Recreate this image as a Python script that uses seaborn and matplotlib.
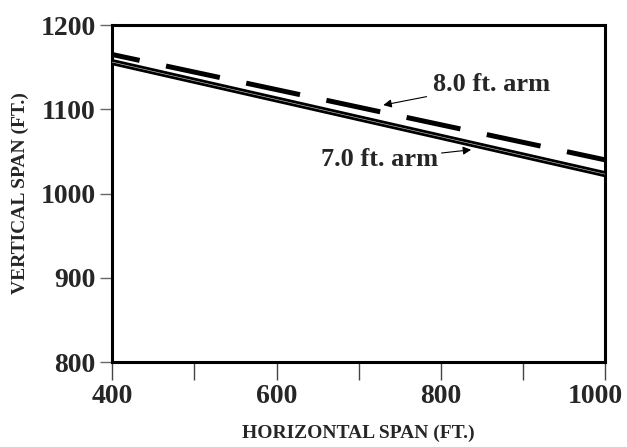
import pandas as pd
import seaborn as sns
import matplotlib.pyplot as plt
import matplotlib.patheffects as pe
import matplotlib.transforms as mtrans

# chart values
span_h = [400, 1000]
arm_7ft = [1156, 1023]
arm_8ft = [1165, 1040]
x_ticks = [400, 600, 800, 1000]
x_minor = [500, 700, 900]
y_ticks = [800, 900, 1000, 1100, 1200]

df = pd.DataFrame({
    'HorizontalSpan': span_h * 2,
    'VerticalSpan': arm_7ft + arm_8ft,
    'Arm': ['7.0 ft. arm'] * 2 + ['8.0 ft. arm'] * 2,
})

sns.set_style("white")
plt.rcParams['font.family'] = ['Liberation Serif', 'DejaVu Serif']
plt.rcParams['font.weight'] = 'bold'

fig = plt.figure(figsize=(6.27, 4.47), dpi=100)
ax = fig.add_axes([0.179, 0.19, 0.786, 0.754])

# solid 7.0 ft line: thick black with a faint light core
sns.lineplot(data=df[df.Arm == '7.0 ft. arm'], x='HorizontalSpan', y='VerticalSpan',
             ax=ax, color='#dddddd', lw=0.4, zorder=3,
             path_effects=[pe.Stroke(linewidth=4.4, foreground='black'), pe.Normal()])
# dashed 8.0 ft line
sns.lineplot(data=df[df.Arm == '8.0 ft. arm'], x='HorizontalSpan', y='VerticalSpan',
             ax=ax, color='black', lw=3.6, zorder=3)
ax.lines[-1].set_linestyle((5.4, (11, 5.4)))
ax.lines[-1].set_dash_capstyle('butt')

ax.set_xlim(400, 1000)
ax.set_ylim(800, 1200)
ax.set_xticks(x_ticks)
ax.set_xticks(x_minor, minor=True)
ax.set_yticks(y_ticks)
ax.tick_params(axis='x', which='both', direction='out', length=13, width=1,
               color='#444444', labelsize=20, pad=3, bottom=True)
ax.tick_params(axis='y', direction='out', length=9, width=1,
               color='#666666', labelsize=20, pad=3, left=True)
for lab in ax.get_xticklabels() + ax.get_yticklabels():
    lab.set_fontweight('bold')
# nudge the right-most x label inward like the reference
last = ax.get_xticklabels()[-1]
last.set_transform(last.get_transform() +
                   mtrans.ScaledTranslation(-10 / 100, 0, fig.dpi_scale_trans))

for s in ax.spines.values():
    s.set_color('black')
    s.set_linewidth(2.2)

ax.set_xlabel('HORIZONTAL SPAN (FT.)', fontsize=14, fontweight='bold', labelpad=11)
ax.set_ylabel('VERTICAL SPAN (FT.)', fontsize=14, fontweight='bold', labelpad=8)

ax.annotate('8.0 ft. arm', xy=(730, 1105), xytext=(790, 1130),
            fontsize=19, fontweight='bold', va='center', ha='left',
            arrowprops=dict(arrowstyle='-|>', color='black', lw=0.8,
                            mutation_scale=12, shrinkA=2, shrinkB=0))
ax.annotate('7.0 ft. arm', xy=(837, 1052), xytext=(797, 1040),
            fontsize=19, fontweight='bold', va='center', ha='right',
            arrowprops=dict(arrowstyle='-|>', color='black', lw=0.8,
                            mutation_scale=12, shrinkA=0, shrinkB=0))

fig.savefig('out.png', dpi=100)
plt.close(fig)
